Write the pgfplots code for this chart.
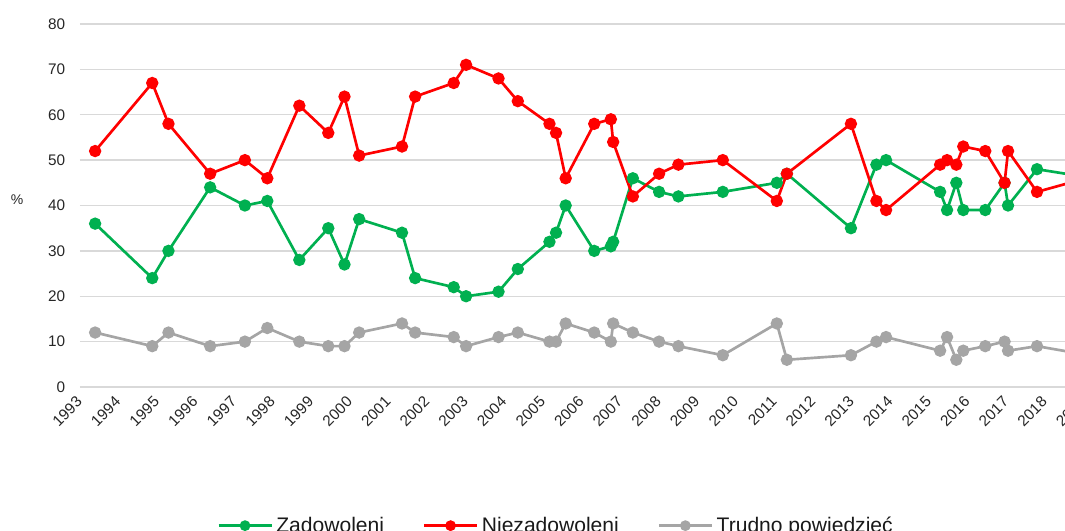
\documentclass[border=0pt]{standalone}
\usepackage{pgfplots}
\pgfplotsset{compat=1.18}
\usepackage{pgfplotstable}
\usepackage{fontspec}
\setmainfont{Liberation Sans}
\definecolor{cgreen}{HTML}{00B050}
\definecolor{cred}{HTML}{FF0000}
\definecolor{cgray}{HTML}{A5A5A5}
\definecolor{cgrid}{HTML}{D9D9D9}
\pgfplotstableread{
x Z N T
1993.34 36 52 12
1994.82 24 67 9
1995.24 30 58 12
1996.32 44 47 9
1997.22 40 50 10
1997.80 41 46 13
1998.63 28 62 10
1999.38 35 56 9
1999.80 27 64 9
2000.18 37 51 12
2001.29 34 53 14
2001.63 24 64 12
2002.63 22 67 11
2002.95 20 71 9
2003.79 21 68 11
2004.29 26 63 12
2005.11 32 58 10
2005.28 34 56 10
2005.53 40 46 14
2006.27 30 58 12
2006.70 31 59 10
2006.76 32 54 14
2007.27 46 42 12
2007.95 43 47 10
2008.45 42 49 9
2009.60 43 50 7
2011.00 45 41 14
2011.26 47 47 6
2012.92 35 58 7
2013.58 49 41 10
2013.83 50 39 11
2015.23 43 49 8
2015.41 39 50 11
2015.65 45 49 6
2015.83 39 53 8
2016.40 39 52 9
2016.90 45 45 10
2016.99 40 52 8
2017.74 48 43 9
2019.22 46 46.5 6.8
}\data
\begin{document}
\begin{tikzpicture}
\useasboundingbox (0,0) rectangle (798.75pt,398.25pt);
\clip (0,0) rectangle (798.75pt,398.25pt);
\begin{axis}[
  at={(60pt,108pt)}, anchor=south west,
  scale only axis, width=768.7pt, height=272.25pt,
  xmin=1992.948, xmax=2019.5, ymin=0, ymax=80,
  scaled ticks=false,
  xtick={1993,1994,1995,1996,1997,1998,1999,2000,2001,2002,2003,2004,2005,2006,2007,2008,2009,2010,2011,2012,2013,2014,2015,2016,2017,2018,2019},
  xticklabels={1993,1994,1995,1996,1997,1998,1999,2000,2001,2002,2003,2004,2005,2006,2007,2008,2009,2010,2011,2012,2013,2014,2015,2016,2017,2018,2019},
  ytick={0,10,20,30,40,50,60,70,80},
  yticklabels={0,10,20,30,40,50,60,70,80},
  axis line style={draw=none},
  major tick length=0pt,
  ymajorgrids,
  grid style={draw=cgrid, line width=1.1pt},
  tick label style={font=\fontsize{11.5}{13}\selectfont, text=black!85},
  xticklabel shift=6pt,
  xticklabel style={xshift=-5pt, rotate=45, anchor=north east, inner sep=0pt},
  yticklabel style={anchor=east, inner sep=0pt, xshift=-11pt},
  clip=true,
  legend style={at={(0.1336,-0.3820)}, anchor=west, draw=none, fill=none,
    inner sep=0pt, font=\fontsize{15.8}{18}\selectfont, text=black!90,
    legend columns=-1,
    nodes={inner sep=0pt},
    /tikz/every odd column/.append style={column sep=2.6pt},
    /tikz/every even column/.append style={column sep=29pt}},
  legend image code/.code={\draw[mark repeat=2,mark phase=2,#1,mark size=3pt]
     plot coordinates {(0pt,0pt) (19.875pt,0pt) (39.75pt,0pt)};},
  every axis plot/.append style={line width=2pt, mark=*, mark size=3.6pt},
]
\addplot[cgreen, mark options={fill=cgreen, draw=cgreen}] table[x=x, y=Z] {\data};
\addlegendentry{Zadowoleni}
\addplot[cred, mark options={fill=cred, draw=cred}] table[x=x, y=N] {\data};
\addlegendentry{Niezadowoleni}
\addplot[cgray, mark options={fill=cgray, draw=cgray}] table[x=x, y=T] {\data};
\addlegendentry{Trudno powiedzieć}
\end{axis}
\node[font=\fontsize{10.5}{12}\selectfont, text=black!85] at (12.75pt,248.25pt) {\%};
\end{tikzpicture}
\end{document}
